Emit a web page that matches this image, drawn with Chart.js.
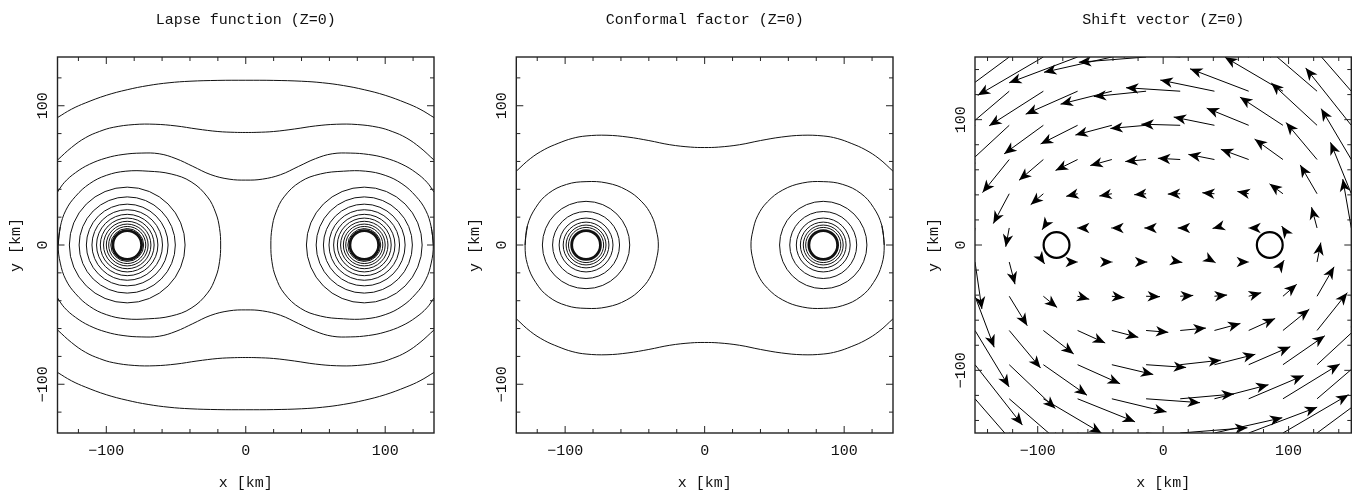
<!DOCTYPE html>
<html>
<head>
<meta charset="utf-8">
<script src="https://cdn.jsdelivr.net/npm/chart.js@4.4.0/dist/chart.umd.min.js"></script>
<style>
  html, body { margin: 0; padding: 0; background: #fff; }
  #wrap { position: relative; width: 1369px; height: 491px; }
  canvas { position: absolute; top: 0; }
</style>
</head>
<body>
<div id="wrap">
  <canvas id="lapse" style="left:0px" width="460" height="491"></canvas>
  <canvas id="conformal" style="left:460px" width="460" height="491"></canvas>
  <canvas id="shift" style="left:920px" width="449" height="491"></canvas>
</div>
<script>
// ---- chart data ----
const panelTitles = ['Lapse function (Z=0)', 'Conformal factor (Z=0)', 'Shift vector (Z=0)'];
const xTitle = 'x [km]';
const yTitle = 'y [km]';
const tickLabels = [-100, 0, 100];
const contourLimit = 135;
const shiftLimit = 150;
const starX = 85;       // stars sit at x = -85 and +85 km
const starRadius = 10.3;

// lapse contours, left half / upper half (x <= 0, y >= 0), in km
const lapseOuter1 = [[-135, 91.5], [-125, 97.5], [-115, 102], [-100, 107.5], [-85, 111.5], [-70, 114.5], [-55, 116.5], [-40, 117.6], [-20, 118.2], [0, 118.3]];
const lapseOuter2 = [[-135, 61], [-125, 70], [-115, 77], [-105, 81.5], [-95, 84.5], [-80, 86.5], [-65, 86.7], [-50, 85.5], [-35, 83.3], [-20, 81.5], [-8, 80.9], [0, 80.8]];
const lapseOuter3 = [[-135, 38], [-130, 45], [-122, 52], [-112, 58], [-100, 62.5], [-88, 65], [-75, 66], [-62, 65.5], [-50, 62], [-38, 56.5], [-25, 50.5], [-12, 47.3], [0, 46.6]];
const lapseEgg = [[-134.5, 0], [-133, 13], [-129, 25], [-122, 35], [-112, 44], [-100, 50], [-86, 53], [-70, 53], [-53.5, 51], [-39.2, 45.4], [-27.5, 34.6], [-21.5, 23], [-18.8, 12], [-18, 0]];
const lapseRings = [41.5, 34.5, 29.3, 25.3, 22, 19.3, 17, 15, 13.3, 11.8];

// conformal factor contours
const confOuter = [[-135, 53], [-125, 62], [-115, 68.5], [-105, 73], [-95, 76.5], [-85, 78.3], [-70, 78.8], [-55, 77.5], [-40, 75], [-25, 72], [-10, 70.3], [0, 70]];
const confEgg = [[-128.7, 0], [-127, 14], [-121, 27], [-112, 37], [-99, 43.5], [-85, 45.5], [-70, 44.5], [-56, 39.5], [-45, 31], [-38, 21], [-34.5, 10], [-33.2, 0]];
const confRings = [31.3, 24, 19.3, 16.4, 14.3, 12.6];

// shift vector: arrows start at grid points, components in km
const shiftCols = [-150, -122.7, -95.5, -68.2, -40.9, -13.6, 13.6, 40.9, 68.2, 95.5, 122.7, 150];
const shiftRows = [150, 122.7, 95.5, 68.2, 40.9, 13.6, -13.6, -40.9, -68.2, -95.5, -122.7, -150];
const shiftU = [
  [-45, -50, -52.3, -54.6, -54.1, -53.6, -53.6, -54.1, -54.6, -52.3, -50, -45],
  [-40, -40, -43.2, -41.4, -40.9, -41.7, -43.2, -43.2, -46.8, -46.3, -42, -40],
  [-37.8, -36.5, -31.3, -29.5, -29.1, -28.5, -31, -32.5, -33.5, -34.3, -36.5, -36.4],
  [-27.2, -21.3, -19.4, -17.6, -17.2, -16.6, -17.8, -20.8, -22.2, -22.6, -24.7, -24],
  [-15.3, -12.7, -10.1, -9.1, -10, -9.5, -9.9, -9.7, -9, -10.7, -13.4, -16.6],
  [-5.5, -2.8, -1, -0.5, -0.5, -1.4, -2, -1.5, -0.3, -1, -4.4, -6.8],
  [5.5, 4.6, 1, 0.3, 0.5, 1, 1.7, 0.9, 0.3, 1, 3, 6.8],
  [15.3, 14.4, 11, 9.3, 10, 11.1, 10.4, 10.1, 10, 11, 13.6, 16.6],
  [27.2, 25, 24.2, 22, 21.1, 17.7, 20.5, 20.7, 21.1, 21, 24.1, 24],
  [37.8, 36.8, 34.8, 33.9, 33, 31.9, 32.4, 32.6, 33.2, 33.4, 36.5, 36.4],
  [40, 41.5, 46.6, 45.8, 43.6, 43, 42.9, 43.1, 43.8, 45.3, 42, 40],
  [45, 50, 52.3, 54.6, 54.1, 53.6, 53.6, 54.1, 54.6, 52.3, 50, 45]
];
const shiftV = [
  [-45, -37, -30.6, -20.6, -12.2, -4.2, 4.2, 12.2, 20.6, 30.6, 37, 45],
  [-46, -34, -27.6, -18.3, -10.3, -4.3, 2.8, 8.9, 17.9, 27.2, 36, 46],
  [-48.2, -33.8, -22.8, -14.9, -7.8, -2.5, 0.9, 6.6, 13.7, 22.5, 33.8, 45.8],
  [-45, -26.4, -16.6, -8.7, -4.8, -1.6, 1, 4.1, 8.1, 16.3, 29.5, 40.6],
  [-40.7, -23.8, -8.7, -2.1, -1.8, -0.8, -0.3, 0.8, 1.8, 7.9, 23, 41],
  [-37.5, -15, -1.5, 0, 0, 0, 0, -0.4, 0, 1.5, 16.6, 39],
  [-37.5, -17.7, -1.5, 0, 0, 0, -0.3, -0.5, 0, 1.5, 15.5, 39],
  [-40.7, -23.5, -9, -2.4, -1.1, -0.3, 0.7, 1, 2.9, 9.5, 23.5, 41],
  [-45, -30, -18.7, -10, -5.5, -1.5, 1.9, 5.6, 9.6, 17, 30.2, 40.6],
  [-48.2, -35, -24.4, -15.2, -7.8, -2.2, 3.6, 8.3, 14.4, 23.1, 33.8, 45.8],
  [-46, -36, -27.6, -18.4, -10.5, -3.1, 3.8, 11.2, 18.6, 27.8, 36, 46],
  [-45, -37, -30.6, -20.6, -12.2, -4.2, 4.2, 12.2, 20.6, 30.6, 37, 45]
];

// ---- helpers ----
const FONT = '15px "Liberation Mono", "DejaVu Sans Mono", monospace';
const INK = '#111';

// the picture is symmetric in x and y, so each curve is given once and reflected
function fullWidth(half) {
  return half.concat(half.slice(0, -1).reverse().map(([x, y]) => [-x, y]));
}
function flipY(pts) { return pts.map(([x, y]) => [x, -y]); }
function flipX(pts) { return pts.map(([x, y]) => [-x, y]); }
function closedLoop(upper) {
  const lower = upper.slice(1, -1).reverse().map(([x, y]) => [x, -y]);
  return upper.concat(lower, [upper[0], upper[1]]);
}

function curve(pts) {
  return {
    data: pts.map(([x, y]) => ({ x, y })),
    showLine: true,
    borderColor: INK,
    borderWidth: 1,
    pointRadius: 0,
    tension: 0.4,
    fill: false
  };
}

function contourSets(openHalves, eggUpper) {
  let sets = [];
  openHalves.forEach(half => {
    let top = fullWidth(half);
    sets.push(curve(top), curve(flipY(top)));
  });
  let egg = closedLoop(eggUpper);
  sets.push(curve(egg), curve(flipX(egg)));
  return sets;
}

function drawRings(chart, radii) {
  const { ctx, chartArea: a, scales: { x, y } } = chart;
  ctx.save();
  ctx.beginPath();
  ctx.rect(a.left, a.top, a.right - a.left, a.bottom - a.top);
  ctx.clip();
  ctx.strokeStyle = INK;
  [-starX, starX].forEach(cx => {
    let px = x.getPixelForValue(cx), py = y.getPixelForValue(0);
    ctx.lineWidth = 1;
    radii.forEach(r => {
      ctx.beginPath();
      ctx.arc(px, py, x.getPixelForValue(cx + r) - px, 0, Math.PI * 2);
      ctx.stroke();
    });
    ctx.lineWidth = 2.8;
    ctx.beginPath();
    ctx.arc(px, py, x.getPixelForValue(cx + starRadius) - px, 0, Math.PI * 2);
    ctx.stroke();
  });
  ctx.restore();
}

function drawArrow(ctx, x0, y0, x1, y1) {
  ctx.beginPath();
  ctx.moveTo(x0, y0);
  ctx.lineTo(x1, y1);
  ctx.stroke();
  let ang = Math.atan2(y1 - y0, x1 - x0);
  let c = Math.cos(ang), s = Math.sin(ang);
  let L = 12.5, W = 5.2, notch = 0.28;
  let pt = (u, v) => [x1 + u * c - v * s, y1 + u * s + v * c];
  let p1 = pt(-L, W), p2 = pt(-L * (1 - notch), 0), p3 = pt(-L, -W);
  ctx.beginPath();
  ctx.moveTo(x1, y1);
  ctx.lineTo(p1[0], p1[1]);
  ctx.lineTo(p2[0], p2[1]);
  ctx.lineTo(p3[0], p3[1]);
  ctx.closePath();
  ctx.fill();
}

function drawShift(chart) {
  const { ctx, chartArea: a, scales: { x, y } } = chart;
  ctx.save();
  ctx.beginPath();
  ctx.rect(a.left, a.top, a.right - a.left, a.bottom - a.top);
  ctx.clip();
  ctx.strokeStyle = '#000';
  ctx.fillStyle = '#000';
  ctx.lineWidth = 1;
  shiftRows.forEach((gy, i) => {
    shiftCols.forEach((gx, j) => {
      drawArrow(ctx,
        x.getPixelForValue(gx), y.getPixelForValue(gy),
        x.getPixelForValue(gx + shiftU[i][j]), y.getPixelForValue(gy + shiftV[i][j]));
    });
  });
  // the two stars
  ctx.lineWidth = 2.2;
  [-starX, starX].forEach(cx => {
    let px = x.getPixelForValue(cx);
    ctx.beginPath();
    ctx.arc(px, y.getPixelForValue(0), x.getPixelForValue(cx + starRadius) - px, 0, Math.PI * 2);
    ctx.stroke();
  });
  ctx.restore();
}

function label(v) {
  return v < 0 ? '\u2212' + Math.abs(v) : String(v);
}

function drawFrame(chart, title, limit) {
  const { ctx, chartArea: a, scales: { x, y } } = chart;
  ctx.save();
  ctx.strokeStyle = '#222';
  ctx.lineWidth = 1;
  // inward ticks on all four sides: long at the labelled values, short every 20 km
  for (let v = -limit + (limit % 20); v <= limit; v += 20) {
    let len = v % 100 === 0 ? 7 : 4;
    let px = x.getPixelForValue(v), py = y.getPixelForValue(v);
    ctx.beginPath();
    ctx.moveTo(px, a.top); ctx.lineTo(px, a.top + len);
    ctx.moveTo(px, a.bottom); ctx.lineTo(px, a.bottom - len);
    ctx.moveTo(a.left, py); ctx.lineTo(a.left + len, py);
    ctx.moveTo(a.right, py); ctx.lineTo(a.right - len, py);
    ctx.stroke();
  }
  ctx.lineWidth = 1.4;
  ctx.strokeRect(a.left, a.top, a.right - a.left, a.bottom - a.top);

  ctx.fillStyle = INK;
  ctx.font = FONT;
  ctx.textAlign = 'center';
  ctx.textBaseline = 'alphabetic';
  let cx = (a.left + a.right) / 2, cy = (a.top + a.bottom) / 2;
  ctx.fillText(title, cx, 24);
  tickLabels.forEach(v => ctx.fillText(label(v), x.getPixelForValue(v), a.bottom + 22));
  ctx.fillText(xTitle, cx, a.bottom + 54);

  tickLabels.forEach(v => {
    ctx.save();
    ctx.translate(a.left - 10.5, y.getPixelForValue(v));
    ctx.rotate(-Math.PI / 2);
    ctx.fillText(label(v), 0, 0);
    ctx.restore();
  });
  ctx.save();
  ctx.translate(a.left - 37.5, cy);
  ctx.rotate(-Math.PI / 2);
  ctx.fillText(yTitle, 0, 0);
  ctx.restore();
  ctx.restore();
}

function makePanel(id, title, limit, datasets, extraDraw, pad) {
  return new Chart(document.getElementById(id), {
    type: 'scatter',
    data: { datasets: datasets },
    options: {
      responsive: false,
      animation: false,
      devicePixelRatio: 1,
      layout: { padding: pad },
      plugins: { legend: { display: false }, tooltip: { enabled: false } },
      scales: {
        x: { type: 'linear', min: -limit, max: limit, display: false },
        y: { type: 'linear', min: -limit, max: limit, display: false }
      }
    },
    plugins: [{
      id: 'pgplotFrame',
      afterDatasetsDraw(chart) {
        if (extraDraw) extraDraw(chart);
        drawFrame(chart, title, limit);
      }
    }]
  });
}

makePanel('lapse', panelTitles[0], contourLimit,
  contourSets([lapseOuter1, lapseOuter2, lapseOuter3], lapseEgg),
  chart => drawRings(chart, lapseRings),
  { left: 57.5, right: 26, top: 57, bottom: 58 });

makePanel('conformal', panelTitles[1], contourLimit,
  contourSets([confOuter], confEgg),
  chart => drawRings(chart, confRings),
  { left: 56.3, right: 27, top: 57, bottom: 58 });

makePanel('shift', panelTitles[2], shiftLimit, [], drawShift,
  { left: 55, right: 17.7, top: 57, bottom: 58 });
</script>
</body>
</html>
